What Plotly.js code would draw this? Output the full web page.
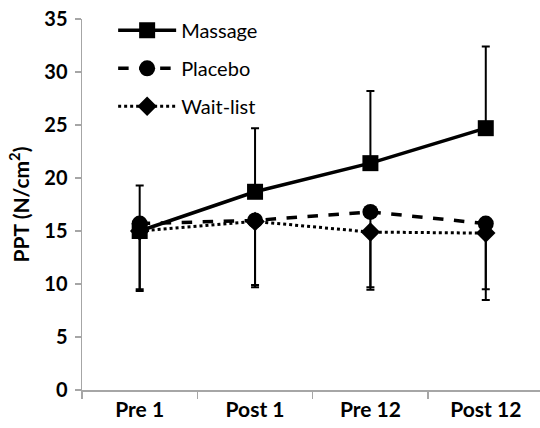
<!DOCTYPE html>
<html>
<head>
<meta charset="utf-8">
<script src="https://cdn.plot.ly/plotly-3.0.1.min.js"></script>
<style>html,body{margin:0;padding:0;background:#fff}#chart{width:540px;height:428px}</style>
</head>
<body>
<div id="chart"></div>
<script>
var categories = ["Pre 1", "Post 1", "Pre 12", "Post 12"];

var massage = [15.0, 18.7, 21.4, 24.7];
var massageErrUp = [4.3, 6.0, 6.8, 7.7];

var placebo = [15.7, 16.0, 16.8, 15.7];
var placeboErrDown = [6.2, 6.1, 7.1, 6.2];

var waitList = [15.0, 15.9, 14.9, 14.8];
var waitListErrDown = [5.65, 6.2, 5.45, 6.3];

var seriesNames = ["Massage", "Placebo", "Wait-list"];
var yTitle = "PPT (N/cm<sup>2</sup>)";

var zeros = [0, 0, 0, 0];
var errStyle = {color: "#000", thickness: 2, width: 4};

var traces = [
  {
    x: categories, y: waitList, name: seriesNames[2], legendgroup: "c", legendrank: 3,
    type: "scatter", mode: "lines+markers",
    line: {color: "#000", width: 3, dash: "dot"},
    marker: {symbol: "diamond", size: 15, color: "#000"},
    error_y: Object.assign({type: "data", symmetric: false, array: zeros, arrayminus: waitListErrDown}, errStyle)
  },
  {
    x: categories, y: placebo, name: seriesNames[1], legendgroup: "b", legendrank: 2,
    type: "scatter", mode: "lines+markers",
    line: {color: "#000", width: 3.5, dash: "dash"},
    marker: {symbol: "circle", size: 16, color: "#000"},
    error_y: Object.assign({type: "data", symmetric: false, array: zeros, arrayminus: placeboErrDown}, errStyle)
  },
  {
    x: categories, y: massage, name: seriesNames[0], legendgroup: "a", legendrank: 1,
    type: "scatter", mode: "lines+markers",
    line: {color: "#000", width: 3.5},
    marker: {symbol: "square", size: 16, color: "#000"},
    error_y: Object.assign({type: "data", symmetric: false, array: massageErrUp, arrayminus: zeros}, errStyle)
  }
];

var layout = {
  width: 540, height: 428,
  margin: {l: 82, r: 0, t: 19, b: 38, pad: 0},
  paper_bgcolor: "#fff", plot_bgcolor: "#fff",
  font: {family: "Lato, 'Open Sans', sans-serif", color: "#000", size: 20},
  showlegend: true,
  legend: {
    x: 0.068, y: 1.022, xanchor: "left", yanchor: "top",
    bgcolor: "rgba(0,0,0,0)", font: {size: 20, color: "#000"},
    tracegroupgap: 9, traceorder: "grouped", itemwidth: 58
  },
  xaxis: {
    type: "category",
    range: [-0.5, 3.47],
    showline: true, linecolor: "#a6a6a6", linewidth: 1.5,
    showgrid: false, zeroline: false,
    ticks: "outside", tickson: "boundaries", ticklen: 7, tickcolor: "#a6a6a6", tickwidth: 1.5,
    tickfont: {family: "Lato, sans-serif", size: 21, color: "#000", weight: "bold"},
    fixedrange: true
  },
  yaxis: {
    range: [0, 35],
    dtick: 5,
    showline: true, linecolor: "#a6a6a6", linewidth: 1.5,
    showgrid: false, zeroline: false,
    ticks: "outside", ticklen: 6, tickcolor: "#a6a6a6", tickwidth: 1.5,
    tickfont: {family: "Lato, sans-serif", size: 20, color: "#000", weight: "bold"},
    ticklabelstandoff: 3,
    title: {text: yTitle, font: {family: "Lato, sans-serif", size: 21, color: "#000", weight: "bold"}, standoff: 9},
    fixedrange: true
  }
};

Plotly.newPlot("chart", traces, layout, {displayModeBar: false, staticPlot: true});
</script>
</body>
</html>
